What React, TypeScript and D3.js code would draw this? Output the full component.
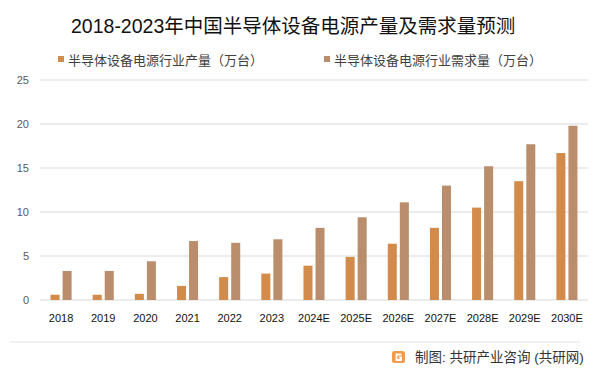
import React from "react";
import * as d3 from "d3";

const categories = ["2018", "2019", "2020", "2021", "2022", "2023", "2024E", "2025E", "2026E", "2027E", "2028E", "2029E", "2030E"];
const production = [0.6, 0.6, 0.7, 1.6, 2.6, 3.0, 3.9, 4.9, 6.4, 8.2, 10.5, 13.5, 16.7];
const demand = [3.3, 3.3, 4.4, 6.7, 6.5, 6.9, 8.2, 9.4, 11.1, 13.0, 15.2, 17.7, 19.8];
const yTicks = [0, 5, 10, 15, 20, 25];
const seriesNames = ["半导体设备电源行业产量（万台）", "半导体设备电源行业需求量（万台）"];
const seriesColors = ["#D38B4C", "#BA8E6C"];
const title = "2018-2023年中国半导体设备电源产量及需求量预测";
const source = "制图: 共研产业咨询 (共研网)";

const W = 602;
const H = 376;
const left = 40;
const right = 588;
const top = 80;
const bottom = 300;
const FONT = "'Liberation Sans', 'Noto Sans CJK SC', sans-serif";

export default function App() {
  const x0 = d3.scaleBand<string>().domain(categories).range([left, right]).paddingInner(0.5).paddingOuter(0.25);
  const x1 = d3.scaleBand<string>().domain(["p", "d"]).range([0, x0.bandwidth()]).paddingInner(0.25);
  const y = d3.scaleLinear().domain([0, 25]).range([bottom, top]);
  const series = [production, demand];
  const keys = ["p", "d"];

  return (
    <svg width={W} height={H} style={{ position: "absolute", left: 0, top: 0, background: "#fff" }} fontFamily={FONT}>
      <rect x={0} y={0} width={W} height={H} fill="#fff" />
      <text x={71} y={32.5} fontSize={19.5} fill="#111">{title}</text>

      {seriesNames.map((n, i) => (
        <g key={n} transform={`translate(${i === 0 ? 58 : 324},0)`}>
          <rect x={0} y={56} width={6} height={6} fill={seriesColors[i]} />
          <text x={10} y={64.5} fontSize={13} fill="#404040">{n}</text>
        </g>
      ))}

      {yTicks.map((t) => (
        <g key={t}>
          <line x1={left} x2={right} y1={y(t)} y2={y(t)} stroke="#D9D9D9" strokeWidth={1} />
          <text x={29} y={y(t) + 4} fontSize={11} fill="#595959" textAnchor="end">{t}</text>
        </g>
      ))}

      {categories.map((c, ci) => (
        <g key={c}>
          {series.map((s, si) => (
            <rect
              key={si}
              x={(x0(c) as number) + (x1(keys[si]) as number)}
              y={y(s[ci])}
              width={x1.bandwidth()}
              height={bottom - y(s[ci])}
              fill={seriesColors[si]}
            />
          ))}
          <text x={(x0(c) as number) + x0.bandwidth() / 2} y={322} fontSize={11} fill="#111" textAnchor="middle">{c}</text>
        </g>
      ))}

      <line x1={10} x2={580} y1={342} y2={342} stroke="#E3E3E3" strokeWidth={1} />
      <g transform="translate(392,351)">
        <rect x={0} y={0} width={13} height={12} rx={2.5} fill="#F19A4C" />
        <path d="M9.5 3.5 H4.5 V9 H9 V6.5 H7" fill="none" stroke="#fff" strokeWidth={1.8} />
      </g>
      <text x={415} y={362} fontSize={13.5} fill="#333">{source}</text>
    </svg>
  );
}
